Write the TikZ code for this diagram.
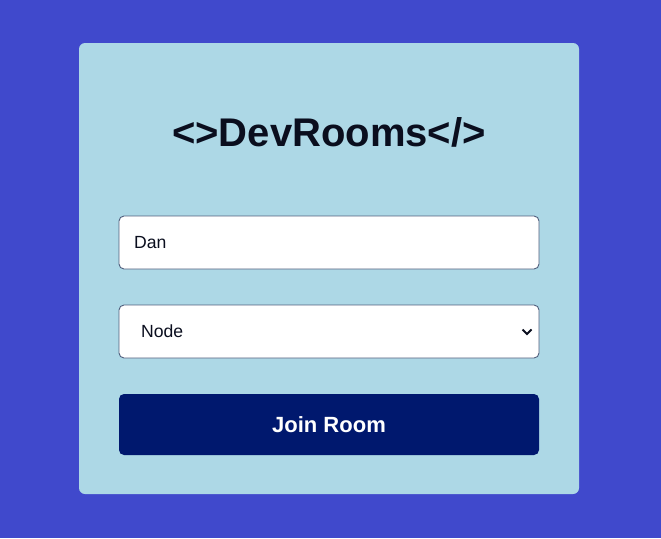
\documentclass[tikz,border=0pt]{standalone}
\usepackage{fontspec}
\setmainfont{Liberation Sans}
\definecolor{bgblue}{RGB}{64,73,204}
\definecolor{cardblue}{RGB}{173,216,230}
\definecolor{btnblue}{RGB}{0,24,110}
\definecolor{fieldborder}{RGB}{80,95,125}
\definecolor{inktext}{RGB}{10,14,30}
\tikzset{
  field/.style={draw=fieldborder, line width=0.9pt, fill=white, rounded corners=5pt,
    minimum width=420pt, minimum height=53pt, inner sep=0pt},
  fieldtext/.style={anchor=west, font=\fontsize{17.6}{20}\selectfont, text=inktext, inner sep=0pt},
  btn/.style={fill=btnblue, rounded corners=5pt, minimum width=420pt, minimum height=61pt,
    inner sep=0pt, text=white, font=\fontsize{22}{25}\selectfont\bfseries}
}
\begin{document}
\begin{tikzpicture}[x=1pt,y=-1pt]
\fill[bgblue] (0,0) rectangle (661,538);
\useasboundingbox (0,0) rectangle (661,538);
\fill[cardblue, rounded corners=6pt] (79,43) rectangle (579,494);
\node[font=\fontsize{40}{46}\selectfont\bfseries, text=inktext, inner sep=0pt] (title) at (329,132.5) {<>DevRooms</>};
\node[field] (name) at (329,242.5) {};
\node[fieldtext] (nametxt) at (134,242.5) {Dan};
\node[field] (room) at (329,331.5) {};
\node[fieldtext] (roomtxt) at (141,331.5) {Node};
\coordinate (chev) at (527,332);
\draw[line width=2pt, inktext] ([xshift=-4.5pt,yshift=2.5pt]chev) -- ([yshift=-2pt]chev) -- ([xshift=4.5pt,yshift=2.5pt]chev);
\node[btn] (join) at (329,424.5) {Join Room};
\end{tikzpicture}
\end{document}
